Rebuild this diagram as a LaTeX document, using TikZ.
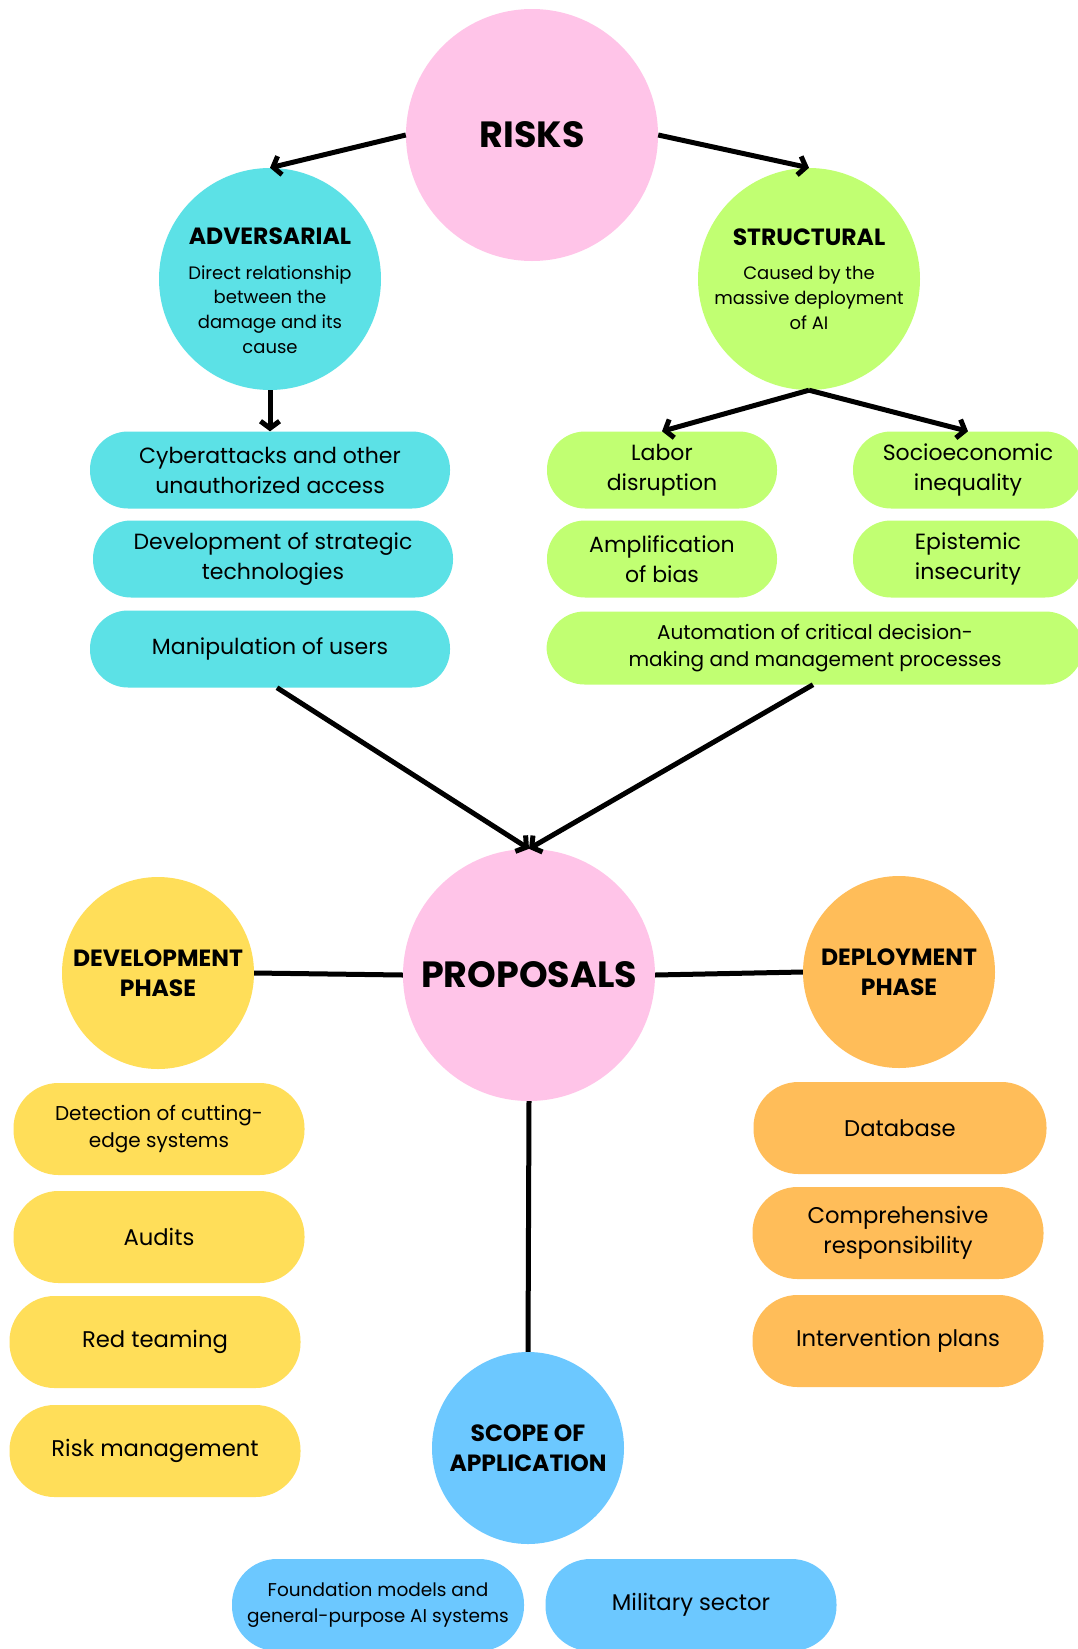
\documentclass[tikz,border=0pt]{standalone}
\usepackage{fontspec}
\setmainfont{Poppins}
\usetikzlibrary{arrows.meta}
\definecolor{riskpink}{HTML}{FFC4E8}
\definecolor{advcyan}{HTML}{5CE1E6}
\definecolor{strlime}{HTML}{C1FF72}
\definecolor{devyellow}{HTML}{FFDE59}
\definecolor{deporange}{HTML}{FFBD59}
\definecolor{scopeblue}{HTML}{6CC8FF}
\newcommand{\bigfont}{\fontsize{36.5}{44}\selectfont\bfseries}
\newcommand{\headfont}{\fontsize{23.5}{30.5}\selectfont\bfseries}
\newcommand{\subfont}{\fontsize{18}{24.7}\selectfont}
\newcommand{\pillfont}{\fontsize{22}{30}\selectfont}
\newcommand{\fatpillfont}{\fontsize{22.7}{30}\selectfont}
\newcommand{\smallpillfont}{\fontsize{20}{27.5}\selectfont}
\newcommand{\tinypillfont}{\fontsize{18.5}{25.5}\selectfont}
\begin{document}
\begin{tikzpicture}[x=1pt,y=-1pt,
  bubble/.style={circle,inner sep=0pt,align=center},
  pill/.style={rounded corners=38pt,inner sep=0pt,align=center,minimum height=77pt,font=\pillfont},
  fatpill/.style={rounded corners=45pt,inner sep=0pt,align=center,minimum height=92pt,font=\fatpillfont},
  link/.style={line width=5pt,black},
  arrow/.style={link,-{Straight Barb[length=7pt,width=19pt]}}]
\useasboundingbox[fill=white] (0,0) rectangle (1077,1649);
% risks
\node[bubble,fill=riskpink,minimum size=252pt,font=\bigfont] (risks) at (532,135) {RISKS};
\node[bubble,fill=advcyan,minimum size=222pt,font=\subfont] (adv) at (270,279)
  {{\headfont\rule{0pt}{40pt}ADVERSARIAL}\\[10pt]Direct relationship\\between the\\damage and its\\cause};
\node[bubble,fill=strlime,minimum size=222pt,font=\subfont] (str) at (809,279)
  {{\headfont STRUCTURAL}\\[10pt]Caused by the\\massive deployment\\of AI};
\node[pill,fill=advcyan,minimum width=360pt] (cyber) at (270,470) {Cyberattacks and other\\unauthorized access};
\node[pill,fill=advcyan,minimum width=360pt] (tech) at (273,559) {Development of strategic\\technologies};
\node[pill,fill=advcyan,minimum width=360pt] (manip) at (270,649) {Manipulation of users};
\node[pill,fill=strlime,minimum width=230pt] (labor) at (662,470) {Labor\\disruption};
\node[pill,fill=strlime,minimum width=230pt] (socio) at (968,470) {Socioeconomic\\inequality};
\node[pill,fill=strlime,minimum width=230pt] (bias) at (662,559) {Amplification\\of bias};
\node[pill,fill=strlime,minimum width=230pt] (epist) at (968,559) {Epistemic\\insecurity};
\node[pill,fill=strlime,minimum width=537pt,minimum height=73pt,font=\smallpillfont] (autom) at (815,648)
  {Automation of critical decision-\\making and management processes};
\draw[arrow] (risks.west) to (adv.north);
\draw[arrow] (risks.east) to (str.north);
\draw[arrow] (adv.south) to (cyber.north);
\draw[arrow] (str.south) to (labor.north);
\draw[arrow] (str.south) to (socio.north);
% proposals
\node[bubble,fill=riskpink,minimum size=252pt,font=\bigfont] (prop) at (529,975) {PROPOSALS};
\draw[arrow] (manip.south) ++(7,0) to (prop.north);
\draw[arrow] (autom.south) ++(-2,0) to (prop.north);
\node[bubble,fill=devyellow,minimum size=192pt,font=\headfont] (dev) at (158,973) {DEVELOPMENT\\PHASE};
\node[bubble,fill=deporange,minimum size=192pt,font=\headfont] (dep) at (899,972) {DEPLOYMENT\\PHASE};
\node[bubble,fill=scopeblue,minimum size=192pt,font=\headfont] (scope) at (528,1448) {SCOPE OF\\APPLICATION};
\draw[link] (dev.east) to (prop.west);
\draw[link] (prop.east) to (dep.west);
\draw[link] (prop.south) to (scope.north);
\node[fatpill,fill=devyellow,minimum width=291pt,font=\smallpillfont] (detect) at (159,1129) {Detection of cutting-\\edge systems};
\node[fatpill,fill=devyellow,minimum width=291pt] (audit) at (159,1237) {Audits};
\node[fatpill,fill=devyellow,minimum width=291pt] (redteam) at (155,1342) {Red teaming};
\node[fatpill,fill=devyellow,minimum width=291pt] (riskman) at (155,1451) {Risk management};
\node[fatpill,fill=deporange,minimum width=293pt] (db) at (900,1128) {Database};
\node[fatpill,fill=deporange,minimum width=291pt] (resp) at (898,1233) {Comprehensive\\responsibility};
\node[fatpill,fill=deporange,minimum width=291pt] (plans) at (898,1341) {Intervention plans};
\node[fatpill,fill=scopeblue,minimum width=292pt,font=\tinypillfont] (found) at (378,1605) {Foundation models and\\general-purpose AI systems};
\node[fatpill,fill=scopeblue,minimum width=291pt] (military) at (691,1605) {Military sector};
\end{tikzpicture}
\end{document}
